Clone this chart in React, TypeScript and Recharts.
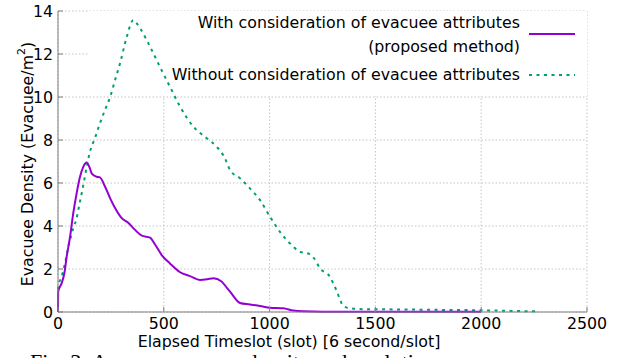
import React from 'react';
import {
  LineChart, Line, XAxis, YAxis, CartesianGrid, ReferenceArea, Legend, Label,
} from 'recharts';

const FONT = '"DejaVu Sans", Verdana, sans-serif';
const FS = 15.8;

// Tick labels
const xTicks = [0, 500, 1000, 1500, 2000, 2500];
const yTicks = [0, 2, 4, 6, 8, 10, 12, 14];

// Series: with consideration of evacuee attributes (proposed method)
const withSlots = [0, 1, 17, 30, 41, 57, 72, 88, 104, 120, 135, 150, 159, 183, 198, 222, 246, 269, 301, 332, 364, 396, 435, 458, 490, 529, 577, 624, 671, 705, 734, 773, 800, 813, 860, 907, 955, 1002, 1064, 1112, 1160, 1250, 1500, 2000];
const withDensity = [0, 0.95, 1.33, 1.8, 2.57, 3.5, 4.59, 5.52, 6.29, 6.76, 6.95, 6.7, 6.45, 6.29, 6.26, 5.84, 5.3, 4.85, 4.37, 4.15, 3.82, 3.55, 3.46, 3.15, 2.65, 2.26, 1.85, 1.67, 1.49, 1.52, 1.57, 1.42, 1.1, 0.95, 0.42, 0.35, 0.28, 0.2, 0.17, 0.07, 0.03, 0.01, 0.01, 0.01];

// Series: without consideration of evacuee attributes
const withoutSlots = [0, 1, 17, 33, 49, 61, 72, 88, 99, 112, 124, 139, 151, 175, 198, 222, 246, 270, 293, 325, 356, 370, 388, 435, 482, 529, 577, 640, 703, 750, 789, 813, 860, 907, 955, 1002, 1049, 1096, 1144, 1183, 1210, 1238, 1285, 1301, 1317, 1336, 1348, 1380, 1450, 1600, 1800, 2000, 2150, 2260];
const withoutDensity = [0, 1.18, 1.64, 2.26, 3.04, 3.5, 3.9, 4.36, 4.9, 5.52, 6.14, 6.92, 7.45, 8.1, 8.77, 9.4, 9.99, 10.8, 11.56, 12.8, 13.58, 13.45, 13.2, 12.34, 11.4, 10.48, 9.55, 8.62, 8.08, 7.69, 7.15, 6.6, 6.22, 5.75, 5.2, 4.43, 3.73, 3.19, 2.8, 2.72, 2.5, 2.03, 1.64, 1.33, 0.98, 0.5, 0.28, 0.17, 0.13, 0.12, 0.1, 0.08, 0.05, 0.03];

const withData = withSlots.map((s, i) => ({ slot: s, density: withDensity[i] }));
const withoutData = withoutSlots.map((s, i) => ({ slot: s, density: withoutDensity[i] }));

const PURPLE = '#9400d3';
const GREEN = '#009e73';
const AXIS = '#7f7f7f';
const DASH = '3 4.5';

const LegendBox = () => (
  <div style={{ position: 'relative', width: 628, height: 100, fontFamily: FONT, fontSize: FS, color: '#000' }}>
    <div style={{ position: 'absolute', right: 108, top: 11, lineHeight: '24px', textAlign: 'right', whiteSpace: 'nowrap' }}>
      With consideration of evacuee attributes<br />(proposed method)
    </div>
    <svg style={{ position: 'absolute', left: 529, top: 30 }} width={47} height={8}>
      <line x1={0} y1={4} x2={46} y2={4} stroke={PURPLE} strokeWidth={2} />
    </svg>
    <div style={{ position: 'absolute', right: 108, top: 63, lineHeight: '24px', textAlign: 'right', whiteSpace: 'nowrap' }}>
      Without consideration of evacuee attributes
    </div>
    <svg style={{ position: 'absolute', left: 529, top: 71 }} width={47} height={8}>
      <line x1={0} y1={4} x2={46} y2={4} stroke={GREEN} strokeWidth={2} strokeDasharray={DASH} />
    </svg>
  </div>
);

export default function App() {
  return (
    <div style={{ position: 'absolute', left: 0, top: 0, width: 628, height: 358, background: '#fff', overflow: 'hidden' }}>
      <LineChart width={628} height={358} margin={{ top: 11, right: 41, bottom: 0, left: 0 }}>
        <CartesianGrid stroke="#c4c4c4" strokeDasharray="1.5 2" />
        <XAxis
          dataKey="slot" type="number" domain={[0, 2500]} ticks={xTicks} interval={0}
          height={46} allowDuplicatedCategory={false}
          axisLine={{ stroke: AXIS }} tickLine={{ stroke: AXIS }} tickSize={-5} tickMargin={11}
          tick={{ fill: '#000', fontFamily: FONT, fontSize: FS }}
        >
          <Label
            content={() => (
              <text x={289} y={347} textAnchor="middle" fontFamily={FONT} fontSize={FS} fill="#000">
                Elapsed Timeslot (slot) [6 second/slot]
              </text>
            )}
          />
        </XAxis>
        <XAxis
          xAxisId="top" orientation="top" dataKey="slot" type="number" domain={[0, 2500]} ticks={xTicks} interval={0}
          height={0} axisLine={{ stroke: AXIS }} tickLine={{ stroke: AXIS }} tickSize={-5} tickFormatter={() => ''}
        />
        <YAxis
          type="number" domain={[0, 14]} ticks={yTicks} interval={0} width={58}
          axisLine={{ stroke: AXIS }} tickLine={{ stroke: AXIS }} tickSize={-5} tickMargin={10}
          tick={{ fill: '#000', fontFamily: FONT, fontSize: FS }}
        >
          <Label
            content={() => (
              <text x={27} y={164} transform="rotate(-90, 27, 164)" textAnchor="middle" dominantBaseline="central"
                fontFamily={FONT} fontSize={FS} fill="#000">
                Evacuee Density (Evacuee/m<tspan fontSize={11} dy={-6}>2</tspan><tspan dy={6}>)</tspan>
              </text>
            )}
          />
        </YAxis>
        <YAxis
          yAxisId="right" orientation="right" type="number" domain={[0, 14]} ticks={yTicks} interval={0} width={0}
          axisLine={{ stroke: AXIS }} tickLine={{ stroke: AXIS }} tickSize={-5} tickFormatter={() => ''}
        />
        <ReferenceArea x1={142} x2={2500} y1={10.05} y2={14} fill="#fff" fillOpacity={1} stroke="none" ifOverflow="hidden" />
        <Legend
          verticalAlign="middle" align="center" layout="horizontal"
          wrapperStyle={{ position: 'absolute', top: 0, left: 0, width: 628, height: 100, pointerEvents: 'none' }}
          content={() => <LegendBox />}
        />
        <Line
          data={withoutData} dataKey="density" name="Without consideration of evacuee attributes"
          type="monotone" stroke={GREEN} strokeWidth={2} strokeDasharray={DASH} dot={false} isAnimationActive={false}
        />
        <Line
          data={withData} dataKey="density" name="With consideration of evacuee attributes (proposed method)"
          type="monotone" stroke={PURPLE} strokeWidth={2} dot={false} isAnimationActive={false}
        />
      </LineChart>
      <div style={{ position: 'absolute', left: 30, top: 349, fontFamily: '"Liberation Serif", serif', fontSize: 22, lineHeight: '26px', whiteSpace: 'nowrap', color: '#000' }}>
        Fig. 3: Average evacuee density and evolution
      </div>
    </div>
  );
}
